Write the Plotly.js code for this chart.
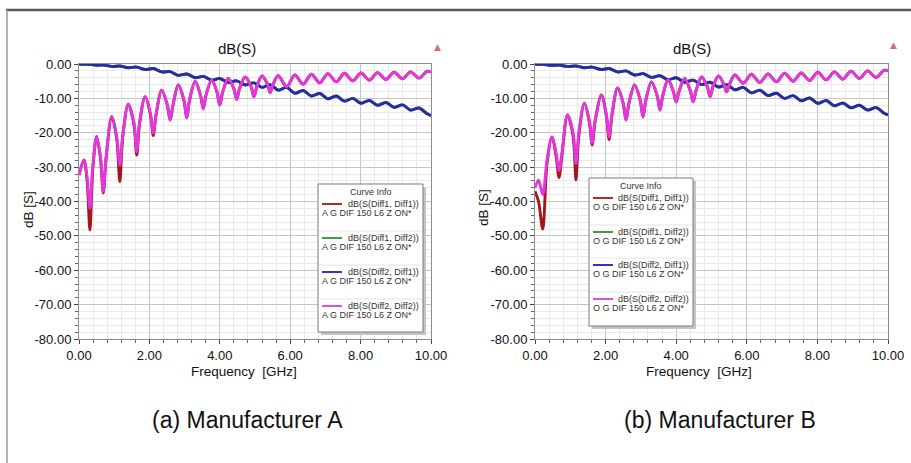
<!DOCTYPE html>
<html>
<head>
<meta charset="utf-8">
<script src="https://cdn.plot.ly/plotly-3.0.1.min.js"></script>
<style>
html,body{margin:0;padding:0;background:#fff;}
#chart{width:911px;height:463px;}
</style>
</head>
<body>
<div id="chart"></div>
<script>
// ---------- DATA ----------
// Manufacturer A: return loss (S11, S22) frequencies [GHz] and values [dB]
var freqRL_A = [0,0.14,0.23,0.31,0.39,0.5,0.61,0.69,0.77,0.93,1.07,1.16,1.24,1.4,1.56,1.64,1.72,1.88,2.03,2.11,2.19,2.35,2.51,2.59,2.67,2.82,2.98,3.06,3.14,3.3,3.45,3.53,3.61,3.77,3.92,4.0,4.08,4.24,4.4,4.48,4.56,4.72,4.89,4.97,5.05,5.2,5.36,5.43,5.51,5.66,5.9,6.13,6.37,6.6,6.84,7.07,7.31,7.54,7.78,8.01,8.25,8.48,8.72,8.95,9.19,9.42,9.66,9.89,10];
var s11_A = [-32.3,-27.9,-34,-48.3,-31, -21.1,-27.5,-37.5,-27.5, -15.3,-21.5,-34.2,-21.5, -11.7,-17.5,-26.5,-17.5, -9.5,-14.8,-20.8,-14.8, -7.6,-12,-16.3,-12, -6.1,-10.5,-15.7,-10.5, -5.1,-9,-13,-9, -4.7,-8.2,-11.9,-8.2, -4.2,-7.2,-10.3,-7.2, -3.8,-6.6,-9.5,-6.6, -3.5,-6.0,-8.3,-6.0, -3.4,-6.6,-3.2,-5.9,-3.0,-5.5,-2.8,-5.2,-2.7,-4.9,-2.6,-4.7,-2.5,-4.5,-2.4,-4.3,-2.3,-4.1,-2.1,-2.4];
var s22_A = [-32.3,-27.9,-33,-42,-30, -21.1,-27,-37.1,-27, -15.3,-21,-29.4,-21, -11.7,-17,-25.5,-17, -9.5,-14.5,-20.1,-14.5, -7.6,-12,-16.3,-12, -6.1,-10.5,-15.7,-10.5, -5.1,-9,-13,-9, -4.7,-8.2,-11.9,-8.2, -4.2,-7.2,-10.3,-7.2, -3.8,-6.6,-9.5,-6.6, -3.5,-6.0,-8.3,-6.0, -3.4,-6.6,-3.2,-5.9,-3.0,-5.5,-2.8,-5.2,-2.7,-4.9,-2.6,-4.7,-2.5,-4.5,-2.4,-4.3,-2.3,-4.1,-2.1,-2.4];
// Manufacturer A: insertion loss (S21 = S12)
var freqIL_A = [0,0.14,0.31,0.5,0.69,0.93,1.16,1.4,1.64,1.88,2.11,2.35,2.59,2.82,3.06,3.3,3.53,3.77,4.0,4.24,4.48,4.72,4.97,5.2,5.43,5.66,5.9,6.13,6.37,6.6,6.84,7.07,7.31,7.54,7.78,8.01,8.25,8.48,8.72,8.95,9.19,9.42,9.66,9.89,10];
var s21_A = [0,-0.1,-0.1,-0.35,-0.3,-0.7,-0.6,-1.1,-0.9,-1.6,-1.3,-2.3,-2.2,-3.3,-2.9,-4.0,-3.6,-4.7,-4.2,-5.4,-4.9,-6.1,-5.5,-6.8,-6.0,-7.6,-6.8,-8.5,-7.7,-9.3,-8.6,-10.1,-9.3,-10.8,-10.0,-11.4,-10.6,-12.0,-11.2,-12.6,-11.9,-13.4,-12.8,-14.5,-15.0];
var s12_A = [0,-0.1,-0.1,-0.35,-0.3,-0.7,-0.6,-1.1,-0.9,-1.6,-1.3,-2.3,-2.2,-3.3,-2.9,-4.0,-3.6,-4.7,-4.2,-5.4,-4.9,-6.1,-5.5,-6.8,-6.0,-7.6,-6.8,-8.5,-7.7,-9.3,-8.6,-10.1,-9.3,-10.8,-10.0,-11.4,-10.6,-12.0,-11.2,-12.6,-11.9,-13.4,-12.8,-14.5,-15.0];

// Manufacturer B
var freqRL_B = [0,0.1,0.22,0.34,0.48,0.6,0.68,0.76,0.92,1.08,1.16,1.24,1.4,1.54,1.62,1.7,1.88,2.02,2.1,2.18,2.34,2.5,2.58,2.66,2.82,2.98,3.06,3.14,3.3,3.46,3.54,3.62,3.77,3.92,4.0,4.08,4.24,4.4,4.48,4.56,4.72,4.88,4.96,5.04,5.2,5.35,5.43,5.51,5.66,5.9,6.13,6.37,6.6,6.84,7.07,7.31,7.54,7.78,8.01,8.25,8.48,8.72,8.95,9.19,9.42,9.66,9.89,10];
var s11_B = [-37,-40,-48,-29, -21.2,-27,-33,-27, -14.8,-21,-33.7,-21, -11.4,-17,-23.5,-17, -9.0,-15,-22,-15, -7.0,-11.5,-16.3,-11.5, -6.1,-10.5,-15.4,-10.5, -5.2,-9.2,-13.4,-9.2, -4.6,-8,-11,-8, -4.2,-7.8,-11,-7.8, -3.8,-6.6,-9.5,-6.6, -3.5,-5.9,-8.1,-5.9, -3.2,-5.6,-3.0,-5.4,-2.9,-5.2,-2.7,-5.0,-2.6,-4.8,-2.4,-4.6,-2.3,-4.4,-2.1,-4.2,-2.0,-3.9,-1.8,-2.0];
var s22_B = [-36,-33.8,-38,-28, -21.2,-26,-31,-26, -14.8,-20,-29,-20, -11.4,-16.5,-23,-16.5, -9.0,-14.5,-21.2,-14.5, -7.0,-11.5,-16.3,-11.5, -6.1,-10.5,-15.4,-10.5, -5.2,-9.2,-13.4,-9.2, -4.6,-8,-11,-8, -4.2,-7.8,-11,-7.8, -3.8,-6.6,-9.5,-6.6, -3.5,-5.9,-8.1,-5.9, -3.2,-5.6,-3.0,-5.4,-2.9,-5.2,-2.7,-5.0,-2.6,-4.8,-2.4,-4.6,-2.3,-4.4,-2.1,-4.2,-2.0,-3.9,-1.8,-2.0];
var freqIL_B = [0,0.1,0.22,0.48,0.68,0.92,1.16,1.4,1.62,1.88,2.1,2.34,2.58,2.82,3.06,3.3,3.54,3.77,4.0,4.24,4.48,4.72,4.96,5.2,5.43,5.66,5.9,6.13,6.37,6.6,6.84,7.07,7.31,7.54,7.78,8.01,8.25,8.48,8.72,8.95,9.19,9.42,9.66,9.89,10];
var s21_B = [0,-0.1,-0.1,-0.4,-0.3,-0.7,-0.6,-1.1,-0.9,-1.6,-1.3,-2.3,-2.0,-3.2,-2.8,-3.9,-3.4,-4.6,-4.0,-5.3,-4.7,-6.0,-5.3,-6.7,-6.0,-7.5,-6.8,-8.4,-7.6,-9.2,-8.5,-10.0,-9.2,-10.7,-9.9,-11.5,-10.7,-12.2,-11.4,-12.8,-12.0,-13.4,-12.7,-14.3,-14.8];
var s12_B = [0,-0.1,-0.1,-0.4,-0.3,-0.7,-0.6,-1.1,-0.9,-1.6,-1.3,-2.3,-2.0,-3.2,-2.8,-3.9,-3.4,-4.6,-4.0,-5.3,-4.7,-6.0,-5.3,-6.7,-6.0,-7.5,-6.8,-8.4,-7.6,-9.2,-8.5,-10.0,-9.2,-10.7,-9.9,-11.4,-10.6,-12.1,-11.3,-12.7,-12.0,-13.4,-12.7,-14.3,-14.8];

// Axis ticks and labels
var xTickVals = [0,2,4,6,8,10];
var xTickText = ['0.00','2.00','4.00','6.00','8.00','10.00'];
var yTickVals = [0,-10,-20,-30,-40,-50,-60,-70,-80];
var yTickText = ['0.00','-10.00','-20.00','-30.00','-40.00','-50.00','-60.00','-70.00','-80.00'];

// Texts
var seriesNames = ['dB(S(Diff1, Diff1))','dB(S(Diff1, Diff2))','dB(S(Diff2, Diff1))','dB(S(Diff2, Diff2))'];
var designA = 'A G DIF 150 L6 Z ON*';
var designB = 'O G DIF 150 L6 Z ON*';
var plotTitle = 'dB(S)';
var xTitle = 'Frequency  [GHz]';
var yTitle = 'dB [S]';
var captionA = '(a) Manufacturer A';
var captionB = '(b) Manufacturer B';
var legendTitle = 'Curve Info';

// ---------- STYLE ----------
var W = 911, H = 463;
function px(x){ return x / W; }
function py(y){ return 1 - y / H; }
var FONT = 'Liberation Sans, Arial, sans-serif';
var colors = ['#a3161c', '#2f9a35', '#2a2aa6', '#e336dc'];
var legColors = ['#b42828', '#40a040', '#3434c8', '#e050e0'];

function tr(x, y, i, xa, ya){
  return {x: x, y: y, type: 'scatter', mode: 'lines', xaxis: xa, yaxis: ya,
    line: {color: colors[i], width: 2.9, shape: 'spline', smoothing: 0.9},
    hoverinfo: 'skip', showlegend: false};
}
var data = [
  tr(freqRL_A, s11_A, 0, 'x', 'y'),
  tr(freqIL_A, s21_A, 1, 'x', 'y'),
  tr(freqIL_A, s12_A, 2, 'x', 'y'),
  tr(freqRL_A, s22_A, 3, 'x', 'y'),
  tr(freqRL_B, s11_B, 0, 'x2', 'y2'),
  tr(freqIL_B, s21_B, 1, 'x2', 'y2'),
  tr(freqIL_B, s12_B, 2, 'x2', 'y2'),
  tr(freqRL_B, s22_B, 3, 'x2', 'y2')
];

function xax(l, r, anchor){
  return {domain: [px(l), px(r)], range: [0, 10], anchor: anchor,
    tickmode: 'array', tickvals: xTickVals, ticktext: xTickText,
    showgrid: true, gridcolor: '#c6c6c6', gridwidth: 1,
    showline: true, linecolor: '#8c8c8c', linewidth: 1, mirror: true,
    ticks: 'outside', ticklen: 4, tickcolor: '#444',
    tickfont: {family: FONT, size: 13, color: '#111'},
    zeroline: false, fixedrange: true,
    minor: {tickmode: 'linear', tick0: 0, dtick: 0.4, showgrid: true, gridcolor: '#e9e9e9', ticks: 'outside', ticklen: 3, tickcolor: '#666'}};
}
function yax(anchor){
  return {domain: [py(339), py(64)], range: [-80, 0], anchor: anchor,
    tickmode: 'array', tickvals: yTickVals, ticktext: yTickText,
    showgrid: true, gridcolor: '#c6c6c6', gridwidth: 1,
    showline: true, linecolor: '#8c8c8c', linewidth: 1, mirror: true,
    ticks: 'outside', ticklen: 4, tickcolor: '#444',
    tickfont: {family: FONT, size: 13, color: '#111'},
    zeroline: false, fixedrange: true,
    minor: {tickmode: 'linear', tick0: 0, dtick: 2, showgrid: true, gridcolor: '#e9e9e9', ticks: 'outside', ticklen: 3, tickcolor: '#666'}};
}

var shapes = [
  {type: 'line', xref: 'paper', yref: 'paper', x0: px(6), x1: 1, y0: py(10), y1: py(10), line: {color: '#5a5a5a', width: 2.5}},
  {type: 'line', xref: 'paper', yref: 'paper', x0: px(7), x1: px(7), y0: py(10), y1: 0, line: {color: '#9a9a9a', width: 1.5}}
];
var annotations = [];
function ann(x, y, text, size, opts){
  var a = {xref: 'paper', yref: 'paper', x: px(x), y: py(y), text: text, showarrow: false,
    font: {family: FONT, size: size, color: '#111'}, xanchor: 'center', yanchor: 'middle'};
  if (opts) for (var k in opts) a[k] = opts[k];
  annotations.push(a);
}

function legendBox(l, r, t, b, yEntries, design){
  shapes.push({type: 'rect', xref: 'paper', yref: 'paper', x0: px(l + 3), x1: px(r + 3), y0: py(b + 3), y1: py(t + 3), fillcolor: '#c4c4c4', line: {width: 0}});
  shapes.push({type: 'rect', xref: 'paper', yref: 'paper', x0: px(l), x1: px(r), y0: py(b), y1: py(t), fillcolor: '#ffffff', line: {color: '#7a7a7a', width: 1}});
  ann((l + r) / 2, t + 8, legendTitle, 9, {font: {family: FONT, size: 9, color: '#333'}});
  for (var i = 0; i < 4; i++){
    var ye = yEntries[i];
    if (i > 0) shapes.push({type: 'line', xref: 'paper', yref: 'paper', x0: px(l + 1), x1: px(r - 1), y0: py(ye - 7), y1: py(ye - 7), line: {color: '#e4e4e4', width: 1}});
    shapes.push({type: 'line', xref: 'paper', yref: 'paper', x0: px(l + 4), x1: px(l + 24), y0: py(ye), y1: py(ye), line: {color: legColors[i], width: 2}});
    ann(r - 2, ye, seriesNames[i], 9, {xanchor: 'right', font: {family: FONT, size: 9, color: '#333'}});
    ann(l + 2, ye + 9, design, 9, {xanchor: 'left', font: {family: FONT, size: 9, color: '#333'}});
  }
}
legendBox(318, 423, 184, 332, [204, 238, 272, 306], designA);
legendBox(589, 693, 178, 326, [198, 232, 265, 299], designB);

// titles
ann(237, 49, plotTitle, 15);
ann(692, 49, plotTitle, 15);
ann(244, 371, xTitle, 13.5);
ann(699, 371, xTitle, 13.5);
ann(28, 210, yTitle, 13.5, {textangle: -90});
ann(483, 208, yTitle, 13.5, {textangle: -90});
ann(248, 420, captionA, 23);
ann(720, 420, captionB, 23);
ann(437, 47, '\u25B2', 9, {font: {family: 'DejaVu Sans', size: 9, color: '#d07070'}});
ann(893, 45, '\u25B2', 9, {font: {family: 'DejaVu Sans', size: 9, color: '#d07070'}});

var layout = {
  width: W, height: H,
  margin: {l: 0, r: 0, t: 0, b: 0},
  paper_bgcolor: '#ffffff', plot_bgcolor: '#ffffff',
  showlegend: false,
  xaxis: xax(79, 431, 'y'),
  yaxis: yax('x'),
  xaxis2: xax(535, 888, 'y2'),
  yaxis2: yax('x2'),
  shapes: shapes,
  annotations: annotations,
  font: {family: FONT}
};
Plotly.newPlot('chart', data, layout, {staticPlot: true, displayModeBar: false});
</script>
</body>
</html>
